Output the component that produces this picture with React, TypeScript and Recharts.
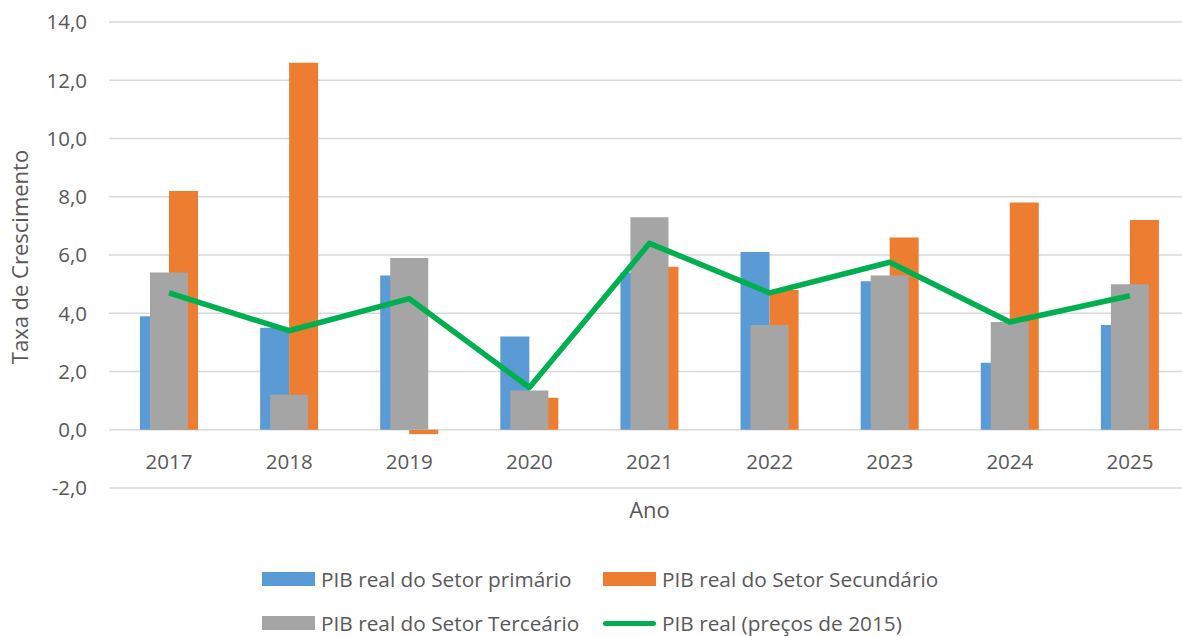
import React from 'react';
import { ComposedChart, Bar, Line, XAxis, YAxis, CartesianGrid, Legend } from 'recharts';

const years = ['2017', '2018', '2019', '2020', '2021', '2022', '2023', '2024', '2025'];
const primario = [3.9, 3.5, 5.3, 3.2, 5.4, 6.1, 5.1, 2.3, 3.6];
const secundario = [8.2, 12.6, -0.15, 1.1, 5.6, 4.8, 6.6, 7.8, 7.2];
const terciario = [5.4, 1.2, 5.9, 1.35, 7.3, 3.6, 5.3, 3.7, 5.0];
const pibReal = [4.7, 3.4, 4.5, 1.45, 6.4, 4.7, 5.75, 3.7, 4.6];
const yTicks = [-2, 0, 2, 4, 6, 8, 10, 12, 14];

const seriesNames = {
  primario: 'PIB real do Setor primário',
  secundario: 'PIB real do Setor Secundário',
  terciario: 'PIB real do Setor Terceário',
  pib: 'PIB real (preços de 2015)',
};

const COLORS = {
  primario: '#5B9BD5',
  secundario: '#ED7D31',
  terciario: '#A5A5A5',
  pib: '#00B050',
};

const data = years.map((y, i) => ({
  year: y,
  primario: primario[i],
  secundario: secundario[i],
  terciario: terciario[i],
  pib: pibReal[i],
}));

const FONT = '"Open Sans", sans-serif';
const TEXT = '#595959';

const fmt = (v: number) => v.toFixed(1).replace('.', ',');

const XTick = (props: any) => {
  const { x, y, payload } = props;
  return (
    <text x={x} y={y - 27} textAnchor="middle" fill={TEXT} fontSize={20.5} fontFamily={FONT}>
      {payload.value}
    </text>
  );
};

const YLabel = (props: any) => {
  const vb = props.viewBox || { x: 0, y: 22, width: 109, height: 466 };
  const cx = vb.x + 22;
  const cy = vb.y + vb.height / 2 + 2;
  return (
    <text
      x={cx}
      y={cy}
      transform={`rotate(-90, ${cx}, ${cy})`}
      textAnchor="middle"
      dominantBaseline="middle"
      fill={TEXT}
      fontSize={22}
      fontFamily={FONT}
    >
      Taxa de Crescimento
    </text>
  );
};

const XLabel = (props: any) => {
  const vb = props.viewBox || { x: 109, y: 488, width: 1080, height: 30 };
  return (
    <text x={vb.x + vb.width / 2} y={vb.y + 30} textAnchor="middle" fill={TEXT} fontSize={22} fontFamily={FONT}>
      Ano
    </text>
  );
};

const legendItems = [
  { key: 'primario', type: 'rect', left: 262, row: 0 },
  { key: 'secundario', type: 'rect', left: 603, row: 0 },
  { key: 'terciario', type: 'rect', left: 262, row: 1 },
  { key: 'pib', type: 'line', left: 603, row: 1 },
];

const renderLegend = () => (
  <div style={{ position: 'relative', width: 1182, height: 72 }}>
    {legendItems.map((it) => (
      <div
        key={it.key}
        style={{
          position: 'absolute',
          left: it.left,
          top: it.row === 0 ? 8 : 52,
          height: 22,
          display: 'flex',
          alignItems: 'center',
          whiteSpace: 'nowrap',
        }}
      >
        {it.type === 'rect' ? (
          <div style={{ width: 53, height: 14, background: (COLORS as any)[it.key] }} />
        ) : (
          <div style={{ width: 53, height: 5, borderRadius: 3, background: (COLORS as any)[it.key] }} />
        )}
        <span style={{ marginLeft: 6, fontSize: 20.8, lineHeight: '22px', fontFamily: FONT, color: TEXT }}>
          {(seriesNames as any)[it.key]}
        </span>
      </div>
    ))}
  </div>
);

export default function App() {
  return (
    <div
      style={{
        position: 'absolute',
        left: 0,
        top: 0,
        width: 1182,
        height: 636,
        overflow: 'hidden',
        background: '#fff',
        fontFamily: FONT,
      }}
    >
      <ComposedChart
        width={1190}
        height={636}
        data={data}
        margin={{ top: 22, right: 0, bottom: 118, left: 0 }}
        barGap={0}
      >
        <CartesianGrid horizontal vertical={false} stroke="#D9D9D9" strokeWidth={1.5} />
        <XAxis
          xAxisId="main"
          dataKey="year"
          axisLine={false}
          tickLine={false}
          height={30}
          interval={0}
          tick={<XTick />}
          label={<XLabel />}
        />
        <XAxis xAxisId="over" dataKey="year" hide />
        <YAxis
          domain={[-2, 14]}
          ticks={yTicks}
          width={109}
          axisLine={false}
          tickLine={false}
          tickMargin={16}
          tickFormatter={fmt}
          tick={{ fill: TEXT, fontSize: 20.5, fontFamily: FONT }}
          label={<YLabel />}
          interval={0}
        />
        <Bar xAxisId="main" dataKey="primario" name={seriesNames.primario} fill={COLORS.primario} barSize={29} isAnimationActive={false} />
        <Bar xAxisId="main" dataKey="secundario" name={seriesNames.secundario} fill={COLORS.secundario} barSize={29} isAnimationActive={false} />
        <Bar xAxisId="over" dataKey="terciario" name={seriesNames.terciario} fill={COLORS.terciario} barSize={38} isAnimationActive={false} />
        <Line
          xAxisId="main"
          dataKey="pib"
          name={seriesNames.pib}
          stroke={COLORS.pib}
          strokeWidth={5.5}
          dot={false}
          activeDot={false}
          isAnimationActive={false}
          strokeLinejoin="round"
        />
        <Legend
          layout="horizontal"
          verticalAlign="middle"
          align="center"
          content={renderLegend}
          wrapperStyle={{ top: 560, left: 0, width: 1182, height: 72 }}
        />
      </ComposedChart>
    </div>
  );
}
